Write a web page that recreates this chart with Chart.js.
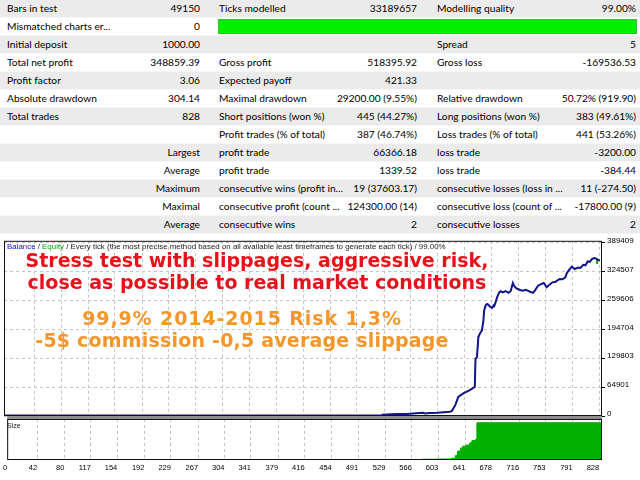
<!DOCTYPE html>
<html><head><meta charset="utf-8">
<script src="https://cdn.jsdelivr.net/npm/chart.js@4.4.1/dist/chart.umd.min.js"></script>
<style>
html,body{margin:0;padding:0;background:#fff;width:640px;height:480px;overflow:hidden;position:relative;}
#report{position:absolute;left:0;top:0;width:640px;height:234px;font-family:Lato,'Noto Sans',sans-serif;font-size:10.2px;color:#000;}
.row{position:absolute;left:0;width:640px;height:17px;border-bottom:1px solid #f6f6f6;background:#fff;}
.row.g{background:#ebebeb;}
.c{position:absolute;top:0;line-height:17px;white-space:nowrap;}
.bar{position:absolute;left:218px;top:1px;width:417px;height:13px;background:#00f000;border:1px solid #30c030;}
#cA{position:absolute;left:0;top:234px;}
#cB{position:absolute;left:0;top:416px;}
.ov{position:absolute;white-space:nowrap;}
.big{font-family:'DejaVu Sans',Verdana,sans-serif;font-weight:bold;font-size:19px;line-height:19px;text-align:center;width:640px;}
#head{left:7px;top:242px;font-family:'Liberation Sans',Arial,sans-serif;font-size:7.9px;line-height:9px;color:#222;}
#size{left:7px;top:422px;font-family:'Liberation Sans',Arial,sans-serif;font-size:7px;line-height:8px;color:#222;}
</style></head>
<body>
<div id="report"></div>
<canvas id="cA" width="640" height="190"></canvas>
<canvas id="cB" width="640" height="64"></canvas>
<div class="ov" id="head"><span style="color:#1010c0">Balance</span> / <span style="color:#10a010">Equity</span> / Every tick (the most precise method based on all available least timeframes to generate each tick) / 99.00%</div>
<div class="ov big" style="left:-63px;top:251px;color:#e8121c">Stress test with slippages, aggressive risk,</div>
<div class="ov big" style="left:-63px;top:273px;color:#e8121c">close as possible to real market conditions</div>
<div class="ov big" style="left:-78px;top:309px;color:#f5962a;letter-spacing:0.9px">99,9% 2014-2015 Risk 1,3%</div>
<div class="ov big" style="left:-78px;top:331px;color:#f5962a;letter-spacing:0.2px">-5$ commission -0,5 average slippage</div>
<div class="ov" id="size">Size</div>
<script>
// ---- report table ----
const tableRows = [
  ["Bars in test","49150","Ticks modelled","33189657","Modelling quality","99.00%"],
  ["Mismatched charts er...","0","","","",""],
  ["Initial deposit","1000.00","","","Spread","5"],
  ["Total net profit","348859.39","Gross profit","518395.92","Gross loss","-169536.53"],
  ["Profit factor","3.06","Expected payoff","421.33","",""],
  ["Absolute drawdown","304.14","Maximal drawdown","29200.00 (9.55%)","Relative drawdown","50.72% (919.90)"],
  ["Total trades","828","Short positions (won %)","445 (44.27%)","Long positions (won %)","383 (49.61%)"],
  ["","","Profit trades (% of total)","387 (46.74%)","Loss trades (% of total)","441 (53.26%)"],
  ["","Largest","profit trade","66366.18","loss trade","-3200.00"],
  ["","Average","profit trade","1339.52","loss trade","-384.44"],
  ["","Maximum","consecutive wins (profit in...","19 (37603.17)","consecutive losses (loss in ...","11 (-274.50)"],
  ["","Maximal","consecutive profit (count ...","124300.00 (14)","consecutive loss (count of ...","-17800.00 (9)"],
  ["","Average","consecutive wins","2","consecutive losses","2"]
];
const barRow = 1;

// ---- chart data ----
const xTickValues = [0,42,80,117,154,192,229,267,304,341,379,416,454,491,529,566,603,641,678,716,753,791,828];
const yTickValues = [0,64901,129803,194704,259606,324507,389409];
const balanceTrades = [0,526,527,546,560,578,583,586,592,603,612,620,623,628,632,639,648,655,656,658,660,662,665,667,668,670,672,674,676,679,681,682,684,686,689,691,694,698,702,705,708,710,713,718,722,726,731,736,739,743,748,751,755,758,763,767,773,777,781,783,786,790,794,799,802,806,809,812,815,818,821,824,827,829];
const balanceValues = [1000,1000,2800,4300,4600,6500,7200,5800,6800,7400,8400,9500,11000,25000,43000,50800,58200,65600,129000,132000,177500,185000,192500,215000,237000,248500,252000,250000,246000,243000,248500,247000,256000,267000,278000,280500,278000,281000,277000,281000,299000,292000,287000,283500,282000,284000,280000,277000,283000,293000,297000,299000,289500,294000,300600,301500,308000,307500,312000,321000,328000,335800,330500,334000,333000,340000,339000,347700,346500,353000,355300,354000,350800,349859];
const equityDipTrades = [825];
const equityDipValues = [342000];
const sizeTrades = [0,527,546,580,600,620,623,627,630,634,637,642,647,650,655,657,832];
const sizeValues = [0.1,0.5,1.2,2,2.5,3.5,5,12,24,32,37,40,46,52,55,100,100];

const rep = document.getElementById('report');
tableRows.forEach((r,i)=>{
  const d = document.createElement('div');
  d.className = 'row' + (i%2===0 ? ' g' : '');
  d.style.top = (i*18)+'px';
  let html = '';
  [[0,1],[2,3],[4,5]].forEach(([a,b],k)=>{
    const L=[7,219,437][k], R=[200,417,636][k];
    if (r[a]) html += '<span class="c" style="left:'+L+'px">'+r[a]+'</span>';
    if (r[b]) html += '<span class="c" style="right:'+(640-R)+'px">'+r[b]+'</span>';
  });
  if (i===barRow) html += '<div class="bar"></div>';
  d.innerHTML = html;
  rep.appendChild(d);
});

const XMAX = 832;
const balancePts = balanceTrades.map((t,i)=>({x:t,y:balanceValues[i]}));
const equityPts = balancePts.concat(equityDipTrades.map((t,i)=>({x:t,y:equityDipValues[i]}))).sort((a,b)=>a.x-b.x);
const sizePts = sizeTrades.map((t,i)=>({x:t,y:sizeValues[i]}));

const frame = {
  id:'frame',
  afterDraw(chart, args, opts){
    const {ctx, chartArea:a} = chart;
    ctx.save();
    if (opts.sep){
      ctx.fillStyle = '#8e8e8e';
      ctx.fillRect(a.left, 0, a.right-a.left, a.top);
    }
    ctx.strokeStyle = '#111';
    ctx.lineWidth = 1;
    ctx.strokeRect(a.left+0.5, a.top+0.5, a.right-a.left-1, a.bottom-a.top-1);
    ctx.restore();
  }
};

const gridCol = '#c4c4c4';
const axisFont = {family:"'Liberation Sans', Arial, sans-serif", size:8};

new Chart(document.getElementById('cA'), {
  type:'line',
  data:{datasets:[
    {label:'Balance', data:balancePts, borderColor:'#14148c', borderWidth:2, pointRadius:0, tension:0, order:1},
    {label:'Equity', data:equityPts, borderColor:'#10a010', borderWidth:1, pointRadius:0, tension:0, order:2}
  ]},
  options:{
    responsive:false, animation:false, devicePixelRatio:1,
    layout:{padding:{left:4,top:6,right:0,bottom:8}},
    plugins:{legend:{display:false}, tooltip:{enabled:false}, frame:{sep:false}},
    scales:{
      x:{type:'linear', min:0, max:XMAX,
        afterBuildTicks:s=>{s.ticks = xTickValues.map(v=>({value:v}));},
        afterFit:s=>{s.height=0;},
        ticks:{display:false},
        grid:{color:gridCol, drawTicks:false},
        border:{display:false, dash:[3,3]}},
      y:{type:'linear', position:'right', min:0, max:394000,
        afterBuildTicks:s=>{s.ticks = yTickValues.map(v=>({value:v}));},
        afterFit:s=>{s.width=38;},
        ticks:{font:axisFont, color:'#000', padding:2, labelOffset:-2, callback:v=>String(v)},
        grid:{color:gridCol, drawTicks:true, tickLength:3, tickColor:'#000', tickBorderDash:[]},
        border:{display:false, dash:[3,3]}}
    }
  },
  plugins:[frame]
});

new Chart(document.getElementById('cB'), {
  type:'line',
  data:{datasets:[
    {label:'Size', data:sizePts, stepped:true, fill:'origin', backgroundColor:'#00b000', borderColor:'#00b000', borderWidth:1, pointRadius:0}
  ]},
  options:{
    responsive:false, animation:false, devicePixelRatio:1,
    layout:{padding:{left:4,top:3,right:0,bottom:0}},
    plugins:{legend:{display:false}, tooltip:{enabled:false}, frame:{sep:true}},
    scales:{
      x:{type:'linear', min:0, max:XMAX,
        afterBuildTicks:s=>{s.ticks = xTickValues.map(v=>({value:v}));},
        afterFit:s=>{s.height=20;},
        ticks:{align:'end', autoSkip:false, maxRotation:0, minRotation:0, font:{family:"'Liberation Sans', Arial, sans-serif", size:7.5}, color:'#000', padding:3, callback:v=>String(v)},
        grid:{color:gridCol, drawTicks:false},
        border:{display:false, dash:[3,3]}},
      y:{type:'linear', position:'right', min:0, max:110,
        afterFit:s=>{s.width=38;},
        ticks:{display:false},
        grid:{display:false},
        border:{display:false}}
    }
  },
  plugins:[frame]
});
</script>
</body></html>
